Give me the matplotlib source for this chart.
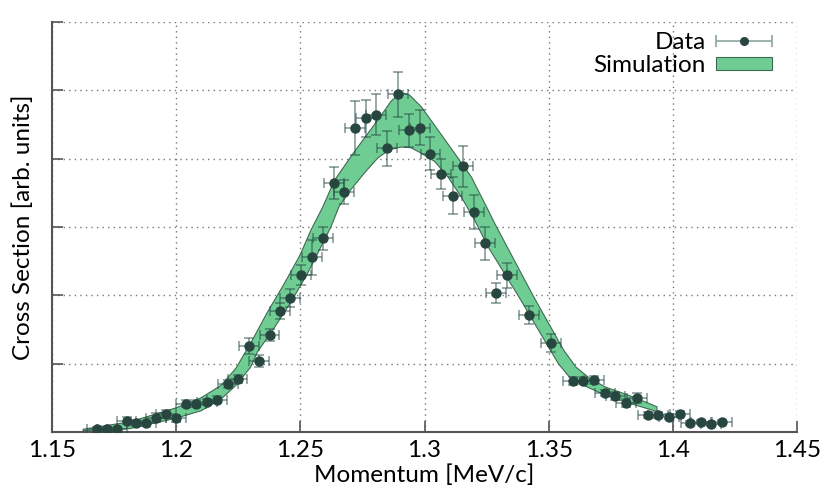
import numpy as np
import matplotlib
matplotlib.use("Agg")
import matplotlib.pyplot as plt
from matplotlib.legend_handler import HandlerErrorbar

plt.rcParams["font.family"] = ["Lato", "DejaVu Sans"]

data_x = [1.1682, 1.1721, 1.1761, 1.1800, 1.1840, 1.1879, 1.1919, 1.1959, 1.2000,
          1.2041, 1.2081, 1.2123, 1.2163, 1.2207, 1.2247, 1.2292, 1.2334, 1.2376,
          1.2418, 1.2460, 1.2503, 1.2546, 1.2590, 1.2634, 1.2677, 1.2720, 1.2763,
          1.2806, 1.2850, 1.2894, 1.2937, 1.2982, 1.3024, 1.3068, 1.3113, 1.3156,
          1.3201, 1.3245, 1.3288, 1.3333, 1.3421, 1.3508, 1.3596, 1.3639, 1.3682,
          1.3727, 1.3769, 1.3812, 1.3856, 1.3899, 1.3942, 1.3986, 1.4029, 1.4071,
          1.4113, 1.4155, 1.4198]
data_y = [0.037, 0.047, 0.047, 0.164, 0.135, 0.127, 0.212, 0.263, 0.202,
          0.412, 0.412, 0.439, 0.475, 0.702, 0.775, 1.257, 1.034, 1.423,
          1.769, 1.959, 2.295, 2.554, 2.832, 3.645, 3.513, 4.449, 4.594,
          4.646, 4.149, 4.942, 4.418, 4.456, 4.072, 3.779, 3.455, 3.892,
          3.221, 2.759, 2.037, 2.294, 1.711, 1.304, 0.746, 0.750, 0.765,
          0.570, 0.526, 0.428, 0.501, 0.249, 0.249, 0.224, 0.263, 0.127,
          0.151, 0.117, 0.142]
data_yerr = [0.03, 0.03, 0.03, 0.05, 0.04, 0.04, 0.07, 0.06, 0.05,
             0.05, 0.05, 0.05, 0.05, 0.06, 0.06, 0.12, 0.09, 0.09,
             0.12, 0.13, 0.15, 0.25, 0.17, 0.24, 0.17, 0.39, 0.27,
             0.30, 0.26, 0.33, 0.24, 0.26, 0.24, 0.22, 0.27, 0.30,
             0.25, 0.24, 0.15, 0.18, 0.13, 0.13, 0.06, 0.05, 0.06,
             0.05, 0.06, 0.06, 0.07, 0.04, 0.04, 0.04, 0.04, 0.03,
             0.03, 0.03, 0.03]
data_xerr = 0.004

# simulation band edges
sim_hi_x = [1.1625, 1.1815, 1.1997, 1.2100, 1.2180, 1.2240, 1.2300, 1.2367, 1.2435,
            1.2499, 1.2542, 1.2590, 1.2637, 1.2717, 1.2758, 1.2825, 1.2865, 1.2893,
            1.2915, 1.2940, 1.2987, 1.3054, 1.3121, 1.3189, 1.3256, 1.3283, 1.3438,
            1.3560, 1.3610, 1.3660, 1.3727, 1.3835, 1.3936]
sim_hi_y = [0.04, 0.15, 0.35, 0.50, 0.68, 0.93, 1.30, 1.75, 2.17,
            2.59, 2.95, 3.29, 3.68, 4.10, 4.30, 4.63, 4.84, 4.93,
            4.96, 4.93, 4.76, 4.42, 4.08, 3.73, 3.25, 3.05, 1.99,
            1.20, 0.95, 0.80, 0.66, 0.52, 0.37]
sim_lo_x = [1.1625, 1.1815, 1.1997, 1.2100, 1.2180, 1.2240, 1.2300, 1.2327, 1.2394,
            1.2462, 1.2529, 1.2583, 1.2623, 1.2656, 1.2704, 1.2758, 1.2812, 1.2858,
            1.2906, 1.2946, 1.2987, 1.3041, 1.3095, 1.3148, 1.3202, 1.3256, 1.3378,
            1.3539, 1.3580, 1.3630, 1.3727, 1.3835, 1.3936]
sim_lo_y = [0.02, 0.05, 0.20, 0.31, 0.48, 0.68, 0.95, 1.17, 1.52,
            1.90, 2.32, 2.71, 3.00, 3.30, 3.55, 3.79, 4.01, 4.13,
            4.17, 4.16, 4.08, 3.96, 3.73, 3.44, 3.10, 2.71, 1.99,
            1.00, 0.82, 0.70, 0.54, 0.41, 0.30]

band_color = "#6fcd94"
point_color = "#27463f"
bar_color = (0.16, 0.29, 0.27, 0.55)
fs = 17.5

fig = plt.figure(figsize=(8.3, 4.98), dpi=100)
ax = fig.add_axes([52 / 830, 1 - 432 / 498, 745 / 830, 410 / 498])

poly_x = list(sim_hi_x) + list(sim_lo_x[::-1])
poly_y = list(sim_hi_y) + list(sim_lo_y[::-1])
sim = ax.fill(poly_x, poly_y, facecolor=band_color, edgecolor="#3f6a52",
              lw=0.8, zorder=2, label="Simulation")[0]

ax.errorbar(data_x, data_y, xerr=data_xerr, yerr=data_yerr, fmt="o",
            color=point_color, ms=6.5, ecolor=bar_color, elinewidth=1.2,
            capsize=3.5, capthick=1.2, zorder=3)
# proxy for the legend: only the horizontal bar is shown there
proxy = ax.errorbar([np.nan], [np.nan], xerr=[data_xerr], fmt="o",
                    color=point_color, ms=5.5, ecolor="#8aa5a0",
                    elinewidth=1.2, capsize=4, capthick=1.2, label="Data")

ax.set_xlim(1.15, 1.45)
ax.set_ylim(0, 6)
ax.set_xticks([1.15, 1.2, 1.25, 1.3, 1.35, 1.4, 1.45])
ax.set_xticklabels(["1.15", "1.2", "1.25", "1.3", "1.35", "1.4", "1.45"])
ax.set_yticks(range(0, 7))
ax.set_yticklabels([])
ax.tick_params(direction="in", length=8, width=1.2, color="#555555",
               labelsize=fs, pad=6)
ax.grid(True, color="#777777", ls=(0, (1, 3)), lw=1.0)
ax.set_axisbelow(True)
for side in ("top", "right"):
    ax.spines[side].set_visible(False)
for side in ("left", "bottom"):
    ax.spines[side].set_color("#555555")
    ax.spines[side].set_linewidth(1.5)

ax.set_xlabel("Momentum [MeV/c]", fontsize=fs, labelpad=2)
ax.set_ylabel("Cross Section [arb. units]", fontsize=fs, labelpad=7)

ax.legend([proxy, sim], ["Data", "Simulation"], loc="upper right",
          bbox_to_anchor=(0.98, 1.0), borderaxespad=0,
          frameon=False, markerfirst=False, fontsize=fs, handlelength=2.3,
          handleheight=0.5, labelspacing=0.1, handletextpad=0.45,
          handler_map={type(proxy): HandlerErrorbar(xerr_size=1.15)})

fig.savefig("out.png", dpi=100)
